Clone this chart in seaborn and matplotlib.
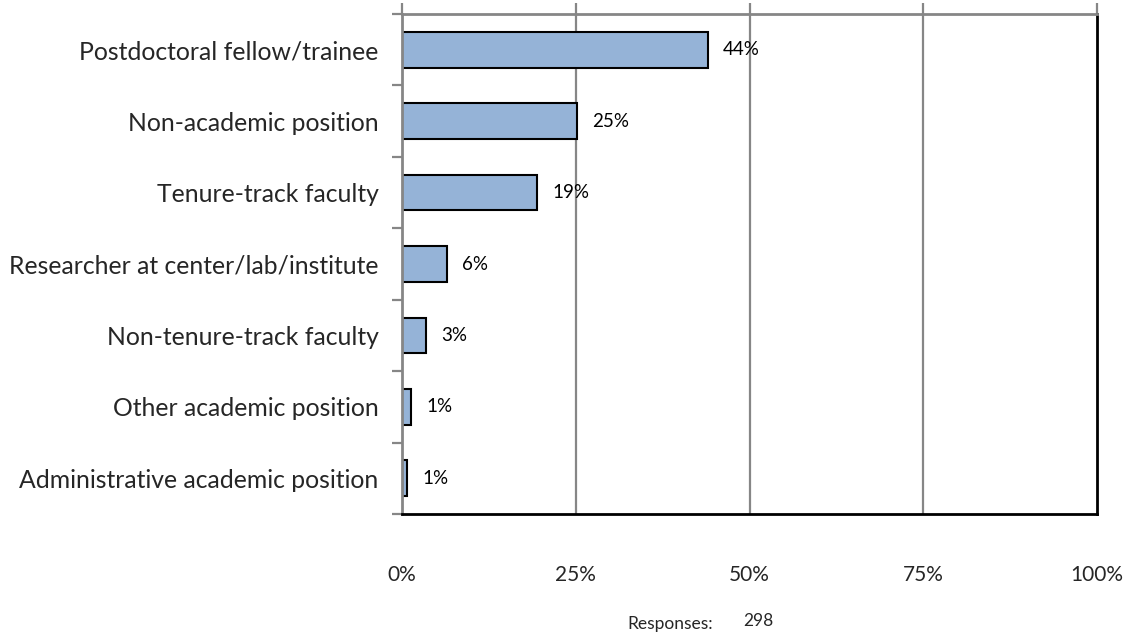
import matplotlib
matplotlib.use("Agg")
import matplotlib.pyplot as plt
from matplotlib.ticker import FixedLocator
import seaborn as sns
import pandas as pd

categories = [
    "Postdoctoral fellow/trainee",
    "Non-academic position",
    "Tenure-track faculty",
    "Researcher at center/lab/institute",
    "Non-tenure-track faculty",
    "Other academic position",
    "Administrative academic position",
]
percent = [44.0, 25.2, 19.4, 6.4, 3.4, 1.3, 0.7]
x_ticks = [0, 25, 50, 75, 100]
x_tick_labels = ["0%", "25%", "50%", "75%", "100%"]
responses = 298

sns.set_theme(style="white")
plt.rcParams["font.family"] = ["Lato", "DejaVu Sans"]

df = pd.DataFrame({"category": categories, "percent": percent})

fig = plt.figure(figsize=(11.30, 6.38), dpi=100)
ax = fig.add_axes([0.3558, 0.1944, 0.6150, 0.7836])

sns.barplot(data=df, x="percent", y="category", order=categories, orient="h",
            color="#95B3D7", edgecolor="black", linewidth=1.5, width=0.5,
            saturation=1, ax=ax)

ax.set_xlim(0, 100)
ax.set_ylim(len(categories) - 0.5, -0.5)
ax.set_xlabel("")
ax.set_ylabel("")

grid_color = "#868686"
# vertical gridlines
for t in x_ticks[1:-1]:
    ax.axvline(t, color=grid_color, lw=1.6, zorder=0)

# x axis: labels below, tick marks on the top edge
ax.set_xticks(x_ticks)
ax.set_xticklabels(x_tick_labels, fontsize=15)
ax.tick_params(axis="x", which="major", bottom=False, top=True, direction="out",
               length=8, width=1.6, color=grid_color, pad=28.5)

# y axis: category labels centred, tick marks at category boundaries
ax.set_yticks(range(len(categories)))
ax.set_yticklabels(categories, fontsize=17.8)
ax.tick_params(axis="y", which="major", left=False, length=0, pad=17)
ax.yaxis.set_minor_locator(FixedLocator([i - 0.5 for i in range(len(categories) + 1)]))
ax.tick_params(axis="y", which="minor", left=True, direction="out",
               length=7, width=1.6, color=grid_color)

for side in ["left", "top"]:
    ax.spines[side].set_color(grid_color)
    ax.spines[side].set_linewidth(2)
for side in ["right", "bottom"]:
    ax.spines[side].set_color("black")
    ax.spines[side].set_linewidth(2)
for s in ax.spines.values():
    s.set_visible(True)

# value labels
for i, v in enumerate(percent):
    ax.annotate(f"{v:.0f}%", xy=(v, i), xytext=(11, 0), textcoords="offset points",
                ha="left", va="center", fontsize=13.5, color="black")

fig.text(0.555, 0.022, "Responses:", fontsize=12.5, ha="left", va="center")
fig.text(0.658, 0.027, f"{responses}", fontsize=12.5, ha="left", va="center")

fig.savefig("out.png", dpi=100)
